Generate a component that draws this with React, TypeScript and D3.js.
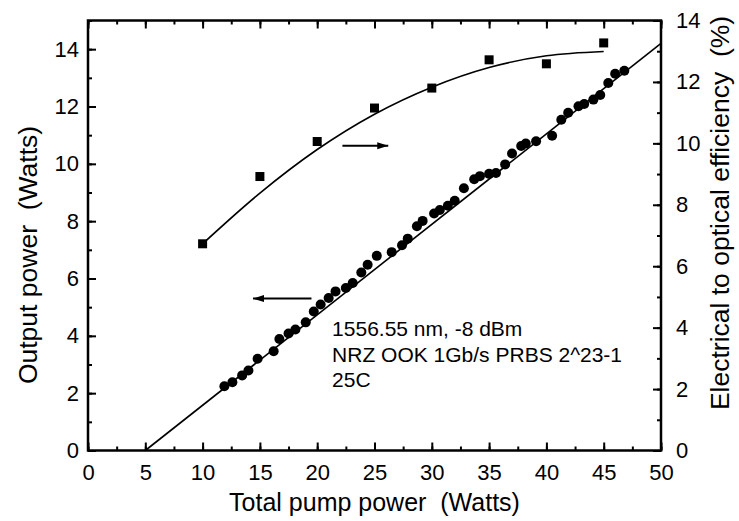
import React, { useEffect, useRef } from 'react';
import * as d3 from 'd3';

// output power vs pump power (left axis)
const pumpPower = [
  11.9, 12.6, 13.45, 14.0, 14.8, 16.2, 16.7, 17.5, 18.1, 19.0, 19.7, 20.3, 21.0, 21.6,
  22.5, 23.1, 23.85, 24.4, 25.2, 26.5, 27.4, 27.9, 28.7, 29.2, 30.2, 30.7, 31.4, 32.0,
  32.8, 33.7, 34.2, 35.0, 35.6, 36.4, 37.0, 37.8, 38.2, 39.1, 40.5, 41.3, 41.9, 42.8,
  43.3, 44.1, 44.7, 45.4, 46.0, 46.8,
];
const outputPower = [
  2.24, 2.38, 2.62, 2.79, 3.2, 3.46, 3.89, 4.08, 4.22, 4.47, 4.85, 5.09, 5.32, 5.55,
  5.67, 5.84, 6.21, 6.48, 6.79, 6.92, 7.16, 7.39, 7.82, 8.01, 8.27, 8.39, 8.54, 8.71,
  9.15, 9.46, 9.57, 9.65, 9.68, 9.98, 10.36, 10.62, 10.71, 10.79, 10.98, 11.54, 11.78, 12.01,
  12.09, 12.24, 12.4, 12.82, 13.14, 13.25,
];

// efficiency vs pump power (right axis)
const effPump = [10, 15, 20, 25, 30, 35, 40, 45];
const efficiency = [6.73, 8.92, 10.06, 11.15, 11.8, 12.72, 12.59, 13.27];

// fitted curves
const linFitX = [5, 50];
const linFitY = [0, 14.2];
const effFitX = [10, 15, 20, 25, 30, 35, 40, 45];
const effFitY = [6.73, 8.38, 9.8, 10.95, 11.83, 12.47, 12.85, 12.99];

const xTicks = [0, 5, 10, 15, 20, 25, 30, 35, 40, 45, 50];
const leftTicks = [0, 2, 4, 6, 8, 10, 12, 14];
const rightTicks = [0, 2, 4, 6, 8, 10, 12, 14];

const noteLines = ['1556.55 nm, -8 dBm', 'NRZ OOK 1Gb/s PRBS 2^23-1', '25C'];

const FONT = "'Liberation Sans', Arial, sans-serif";
const TICK_FS = 22;

const App = () => {
  const ref = useRef<SVGSVGElement>(null);

  useEffect(() => {
    const margin = { top: 20.5, right: 78, bottom: 70.5, left: 88 };
    const W = 739, H = 521;
    const width = W - margin.left - margin.right;
    const height = H - margin.top - margin.bottom;

    const root = d3.select(ref.current);
    root.selectAll('*').remove();
    const svg = root.append('g').attr('transform', `translate(${margin.left},${margin.top})`);

    const x = d3.scaleLinear().domain([0, 50]).range([0, width]);
    const yL = d3.scaleLinear().domain([0, 15]).range([height, 0]);
    const yR = d3.scaleLinear().domain([0, 14]).range([height, 0]);

    const styleAxis = (g, labels = true) => {
      g.select('.domain').remove();
      g.selectAll('line').attr('stroke', '#000').attr('stroke-width', 2);
      g.selectAll('text')
        .attr('font-family', FONT)
        .attr('font-size', TICK_FS)
        .attr('fill', '#000')
        .style('display', labels ? null : 'none');
    };

    const minorX = d3.range(0, 50.1, 2.5);
    const minorL = d3.range(0, 15.1, 1);
    const minorR = d3.range(0, 14.1, 1);

    // bottom
    svg.append('g').attr('transform', `translate(0,${height})`)
      .call(d3.axisBottom(x).tickValues(minorX).tickSize(-4).tickFormat(() => ''))
      .call((g) => styleAxis(g, false));
    svg.append('g').attr('transform', `translate(0,${height})`)
      .call(d3.axisBottom(x).tickValues(xTicks).tickSize(-8).tickPadding(14).tickFormat(d3.format('d')))
      .call((g) => styleAxis(g));
    // top
    svg.append('g')
      .call(d3.axisTop(x).tickValues(minorX).tickSize(-4).tickFormat(() => ''))
      .call((g) => styleAxis(g, false));
    svg.append('g')
      .call(d3.axisTop(x).tickValues(xTicks).tickSize(-8).tickFormat(() => ''))
      .call((g) => styleAxis(g, false));
    // left
    svg.append('g')
      .call(d3.axisLeft(yL).tickValues(minorL).tickSize(-4).tickFormat(() => ''))
      .call((g) => styleAxis(g, false));
    svg.append('g')
      .call(d3.axisLeft(yL).tickValues(leftTicks).tickSize(-8).tickPadding(9).tickFormat(d3.format('d')))
      .call((g) => styleAxis(g));
    // right
    svg.append('g').attr('transform', `translate(${width},0)`)
      .call(d3.axisRight(yR).tickValues(minorR).tickSize(-4).tickFormat(() => ''))
      .call((g) => styleAxis(g, false));
    svg.append('g').attr('transform', `translate(${width},0)`)
      .call(d3.axisRight(yR).tickValues(rightTicks).tickSize(-8).tickPadding(15).tickFormat(d3.format('d')))
      .call((g) => styleAxis(g));

    // frame
    svg.append('rect')
      .attr('width', width).attr('height', height)
      .attr('fill', 'none').attr('stroke', '#000').attr('stroke-width', 2.5);

    // linear fit
    const linLine = d3.line<number>().x((d) => x(d)).y((d, i) => yL(linFitY[i]));
    svg.append('path')
      .attr('d', linLine(linFitX))
      .attr('fill', 'none').attr('stroke', '#000').attr('stroke-width', 1.6);

    // efficiency fit
    const effLine = d3.line<number>().x((d) => x(d)).y((d, i) => yR(effFitY[i])).curve(d3.curveMonotoneX);
    svg.append('path')
      .attr('d', effLine(effFitX))
      .attr('fill', 'none').attr('stroke', '#000').attr('stroke-width', 1.6);

    // circles
    svg.selectAll('circle')
      .data(pumpPower)
      .enter()
      .append('circle')
      .attr('cx', (d) => x(d))
      .attr('cy', (d, i) => yL(outputPower[i]))
      .attr('r', 5)
      .attr('fill', '#000');

    // squares
    const sq = 9;
    svg.selectAll('rect.sq')
      .data(effPump)
      .enter()
      .append('rect')
      .attr('class', 'sq')
      .attr('x', (d) => x(d) - sq / 2)
      .attr('y', (d, i) => yR(efficiency[i]) - sq / 2)
      .attr('width', sq).attr('height', sq)
      .attr('fill', '#000');

    // arrows
    const arrow = (x1, x2, yy, dir) => {
      svg.append('line')
        .attr('x1', x1).attr('x2', x2).attr('y1', yy).attr('y2', yy)
        .attr('stroke', '#000').attr('stroke-width', 2);
      const tip = dir > 0 ? x2 : x1;
      const base = tip - dir * 11;
      svg.append('path')
        .attr('d', `M${tip},${yy} L${base},${yy - 3.5} L${base},${yy + 3.5} Z`)
        .attr('fill', '#000');
    };
    arrow(x(22.2), x(26.2), yR(9.92), 1);
    arrow(x(14.4), x(19.5), yL(5.3), -1);

    // annotation
    const note = svg.append('text')
      .attr('font-family', FONT).attr('font-size', 21).attr('fill', '#000');
    noteLines.forEach((t, i) => {
      note.append('tspan').attr('x', x(21.3)).attr('y', 336 - margin.top + i * 25.5).text(t);
    });

    // axis titles
    svg.append('text')
      .attr('x', width / 2).attr('y', H - margin.top - 10)
      .attr('text-anchor', 'middle')
      .attr('font-family', FONT).attr('font-size', 25)
      .style('white-space', 'pre')
      .text('Total pump power  (Watts)');

    svg.append('text')
      .attr('transform', `translate(${37 - margin.left},${255 - margin.top}) rotate(-90)`)
      .attr('text-anchor', 'middle')
      .attr('font-family', FONT).attr('font-size', 26.5)
      .style('white-space', 'pre')
      .text('Output power  (Watts)');

    svg.append('text')
      .attr('transform', `translate(${729 - margin.left},${213 - margin.top}) rotate(-90)`)
      .attr('text-anchor', 'middle')
      .attr('font-family', FONT).attr('font-size', 26.5)
      .style('white-space', 'pre')
      .text('Electrical to optical efficiency  (%)');
  }, []);

  return (
    <svg
      ref={ref}
      width={739}
      height={521}
      style={{ position: 'absolute', left: 0, top: 0, background: '#fff' }}
    />
  );
};

export default App;
